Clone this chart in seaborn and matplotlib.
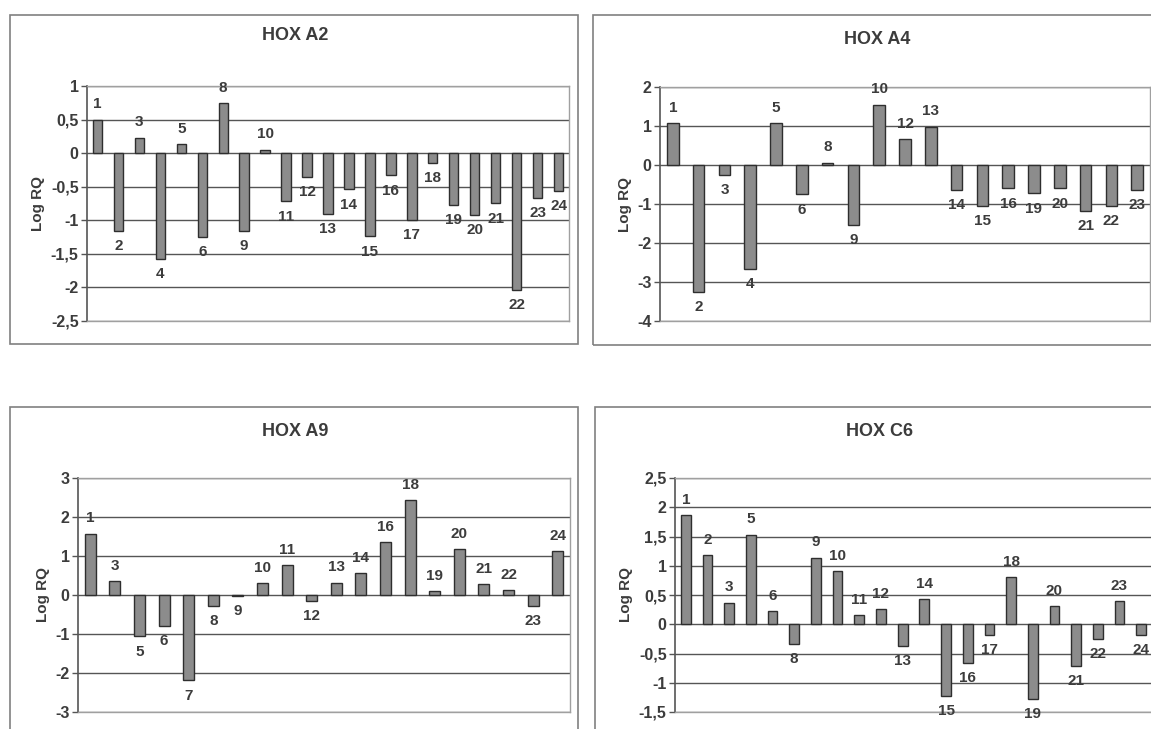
import numpy as np
import pandas as pd
import matplotlib
matplotlib.use("Agg")
import matplotlib.pyplot as plt
from matplotlib.patches import Rectangle
from matplotlib.ticker import FuncFormatter, MultipleLocator
import seaborn as sns

# --- data (sample number -> Log RQ) ---
a2_samples = [1, 2, 3, 4, 5, 6, 8, 9, 10, 11, 12, 13, 14, 15, 16, 17, 18, 19, 20, 21, 22, 23, 24]
a2_values = [0.50, -1.16, 0.23, -1.57, 0.13, -1.25, 0.74, -1.16, 0.05, -0.72, -0.35, -0.90,
             -0.54, -1.24, -0.33, -0.99, -0.14, -0.77, -0.92, -0.75, -2.04, -0.67, -0.56]

a4_samples = [1, 2, 3, 4, 5, 6, 8, 9, 10, 12, 13, 14, 15, 16, 19, 20, 21, 22, 23]
a4_values = [1.08, -3.26, -0.26, -2.67, 1.08, -0.75, 0.06, -1.54, 1.55, 0.67, 0.98,
             -0.63, -1.04, -0.60, -0.73, -0.60, -1.17, -1.04, -0.64]

a9_samples = [1, 3, 5, 6, 7, 8, 9, 10, 11, 12, 13, 14, 16, 18, 19, 20, 21, 22, 23, 24]
a9_values = [1.57, 0.35, -1.06, -0.79, -2.19, -0.27, -0.02, 0.30, 0.77, -0.15, 0.32,
             0.56, 1.36, 2.43, 0.09, 1.17, 0.27, 0.13, -0.27, 1.12]

c6_samples = [1, 2, 3, 5, 6, 8, 9, 10, 11, 12, 13, 14, 15, 16, 17, 18, 19, 20, 21, 22, 23, 24]
c6_values = [1.87, 1.18, 0.37, 1.53, 0.22, -0.33, 1.14, 0.91, 0.15, 0.26, -0.37, 0.43,
             -1.22, -0.66, -0.18, 0.80, -1.28, 0.31, -0.71, -0.25, 0.39, -0.18]

W, H = 1151, 729
TXT = "#3c3c3c"

sns.set_theme(style="white")
plt.rcParams["font.family"] = ["Liberation Sans", "DejaVu Sans"]

fig = plt.figure(figsize=(W / 100, H / 100), dpi=100)
fig.patch.set_facecolor("white")


def px_rect(left, top, right, bottom):
    return [left / W, 1 - bottom / H, (right - left) / W, (bottom - top) / H]


def comma_fmt(v, pos):
    return ("%g" % round(v, 2)).replace(".", ",")


def draw_panel(samples, values, title, rect, ylim, step, frame, title_xy):
    # outer chart frame
    fl, ft, fr, fb = frame
    fig.add_artist(Rectangle((fl / W, 1 - fb / H), (fr - fl) / W, (fb - ft) / H,
                             transform=fig.transFigure, fill=False,
                             edgecolor="#808080", linewidth=1.2))
    fig.text(title_xy[0] / W, 1 - title_xy[1] / H, title, ha="center", va="center",
             fontsize=13, fontweight="bold", color=TXT)

    df = pd.DataFrame({"sample": [str(s) for s in samples], "logrq": values})
    ax = fig.add_axes(px_rect(*rect))
    sns.barplot(data=df, x="sample", y="logrq", order=df["sample"], ax=ax,
                color="#8c8c8c", saturation=1, width=0.45,
                edgecolor="#2e2e2e", linewidth=1.0)
    n = len(samples)
    ax.set_xlim(-0.5, n - 0.5)
    ax.set_ylim(*ylim)
    ax.yaxis.set_major_locator(MultipleLocator(step))
    ax.yaxis.set_major_formatter(FuncFormatter(comma_fmt))
    ax.grid(axis="y", color="#555555", linewidth=1.0)
    ax.set_axisbelow(True)
    ax.set_xticks([])
    ax.set_xlabel("")
    ax.set_ylabel("Log RQ", fontsize=11, fontweight="bold", color=TXT, labelpad=4)
    ax.tick_params(axis="y", left=True, length=4, width=1, color="#555555",
                   labelsize=11.5, labelcolor=TXT, pad=2)
    for lab in ax.get_yticklabels():
        lab.set_fontweight("bold")
    for side in ["top", "right", "bottom"]:
        ax.spines[side].set_color("#a0a0a0")
        ax.spines[side].set_linewidth(1.0)
    ax.spines["left"].set_color("#555555")
    ax.spines["left"].set_linewidth(1.2)

    for i, (s, v) in enumerate(zip(samples, values)):
        if v >= 0:
            ax.annotate(str(s), (i, v), xytext=(0, 6), textcoords="offset points",
                        ha="center", va="bottom", fontsize=11, fontweight="bold", color=TXT)
        else:
            ax.annotate(str(s), (i, v), xytext=(0, -6), textcoords="offset points",
                        ha="center", va="top", fontsize=11, fontweight="bold", color=TXT)
    return ax


draw_panel(a2_samples, a2_values, "HOX A2", (87, 86, 569, 321), (-2.5, 1), 0.5,
           (10, 15, 578, 344), (295, 35))
draw_panel(a4_samples, a4_values, "HOX A4", (660, 87, 1150, 321), (-4, 2), 1,
           (593, 15, 1165, 345), (877, 40))
draw_panel(a9_samples, a9_values, "HOX A9", (78, 478, 570, 712), (-3, 3), 1,
           (10, 407, 578, 745), (295, 432))
draw_panel(c6_samples, c6_values, "HOX C6", (675, 478, 1152, 712), (-1.5, 2.5), 0.5,
           (595, 407, 1165, 745), (879, 432))

fig.savefig("out.png", dpi=100)
